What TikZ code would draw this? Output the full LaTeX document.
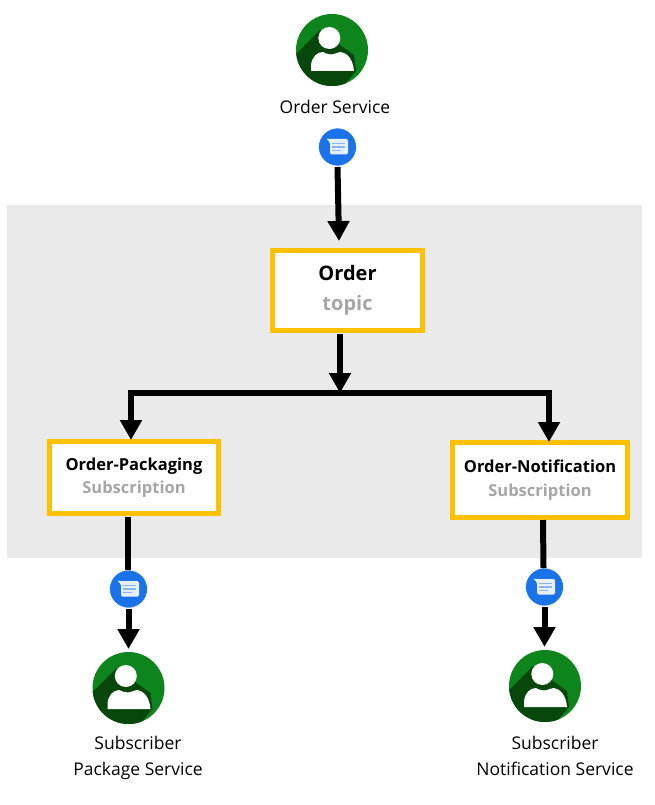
\documentclass[tikz,border=0pt]{standalone}
\usepackage{fontspec}
\setmainfont{Open Sans}
\usetikzlibrary{arrows.meta}
\definecolor{panel}{HTML}{EAEAEA}
\definecolor{amber}{HTML}{FFC000}
\definecolor{mutedgray}{HTML}{A6A6A6}
\definecolor{usergreen}{HTML}{0D851C}
\definecolor{usershade}{HTML}{07470C}
\definecolor{msgblue}{HTML}{1A73E8}
\definecolor{msgline}{HTML}{8AB4F8}
\definecolor{msgfill}{HTML}{E8F0FE}
\tikzset{
  x=1pt,y=-1pt,
  conn/.style={line width=6pt,black,-{Triangle[width=21pt,length=20pt]},line join=miter},
  plainconn/.style={line width=6pt,black},
  topicbox/.style={draw=amber,fill=white,line width=5pt,align=center,inner sep=0pt},
  usernode/.style={circle,fill=usergreen,minimum size=72pt,inner sep=0pt,outer sep=0pt},
  msgnode/.style={circle,fill=msgblue,draw=white,line width=0.6pt,minimum size=38pt,inner sep=0pt,outer sep=0pt},
  label/.style={align=center,inner sep=0pt,font=\fontsize{17.5}{26}\selectfont},
  usericon/.pic={
    \begin{scope}
      \clip (0,0) circle (36);
      \fill[usershade] (-12,-20) -- (-38,6) -- (-38,40) -- (8,40) -- (24,21) -- (22,5) -- (8,-5) -- cycle;
    \end{scope}
    \fill[white] (-2.7,-12) circle (11);
    \fill[white] (-21,21) -- (-21,15) .. controls (-20,7) and (-15,2) .. (-9,2)
      .. controls (-6,4) and (-1,5) .. (2,4) .. controls (5,3) and (7,2) .. (9,2)
      .. controls (15,3) and (21,9) .. (22,21) -- cycle;
  },
  msgicon/.pic={
    \fill[msgfill,rounded corners=1.5pt] (-9.5,-8) -- (10.5,-8) -- (10.5,7.5) -- (-7.5,7.5) -- (-7.5,-5) -- (-11.5,-8.4) -- cycle;
    \draw[msgline,line width=1.1pt] (-5.5,-3.5) -- (7,-3.5) (-5.5,0) -- (7,0);
    \draw[msgline,line width=1.1pt] (-5.5,3.5) -- (3.5,3.5);
  },
}
\begin{document}
\begin{tikzpicture}
\useasboundingbox (0,0) rectangle (654,805);
\fill[panel] (7,205) rectangle (642,558);

% top service
\node[usernode] (orderuser) at (332,50) {};
\pic at (orderuser.center) {usericon};
\node[label] (orderlabel) at (335,107) {Order Service};
\node[msgnode] (ordermsg) at (337.5,147) {};
\pic at (ordermsg.center) {msgicon};

% boxes
\node[topicbox,minimum width=150pt,minimum height=80pt,font=\fontsize{20}{30}\selectfont\bfseries] (order) at (347.5,290.5)
  {Order\\[0pt]\textcolor{mutedgray}{topic}};
\node[topicbox,minimum width=169pt,minimum height=72pt,font=\fontsize{16.5}{23.5}\selectfont\bfseries] (pack) at (134,477.5)
  {Order-Packaging\\\textcolor{mutedgray}{Subscription}};
\node[topicbox,minimum width=175pt,minimum height=75pt,font=\fontsize{16.5}{23.5}\selectfont\bfseries] (notif) at (540,480)
  {Order-Notification\\\textcolor{mutedgray}{Subscription}};

% subscribers
\node[msgnode] (packmsg) at (128.5,589) {};
\pic at (packmsg.center) {msgicon};
\node[usernode] (packuser) at (128.5,688) {};
\pic at (packuser.center) {usericon};
\node[label] (packlabel) at (138,758) {Subscriber\\Package Service};

\node[msgnode] (notifmsg) at (544.5,587) {};
\pic at (notifmsg.center) {msgicon};
\node[usernode] (notifuser) at (545,686) {};
\pic at (notifuser.center) {usericon};
\node[label] (notiflabel) at (555,756) {Subscriber\\Notification Service};

% connectors
\coordinate (bus) at (340,393);
\coordinate (busleft) at (131,393);
\coordinate (busright) at (549,393);
\draw[conn] ([yshift=-1pt]ordermsg.south) -- ([xshift=-8.5pt,yshift=7pt]order.north);
\draw[conn] ([xshift=-7.5pt,yshift=-1pt]order.south) -- (bus);
\draw[plainconn] (busleft) -- (busright);
\draw[conn] ([yshift=3pt]busleft) -- ([xshift=-3pt,yshift=-1pt]pack.north);
\draw[conn] ([yshift=3pt]busright) -- ([xshift=9pt,yshift=-2pt]notif.north);
\draw[plainconn] ([xshift=-6.5pt,yshift=-1pt]pack.south) -- ([xshift=-1pt]packmsg.north);
\draw[conn] ([yshift=-1pt]packmsg.south) -- ([yshift=3pt]packuser.north);
\draw[plainconn] ([xshift=3pt]notif.south) -- ([xshift=-1pt]notifmsg.north);
\draw[conn] ([yshift=-1pt]notifmsg.south) -- ([yshift=3pt,xshift=-0.5pt]notifuser.north);
\end{tikzpicture}
\end{document}
